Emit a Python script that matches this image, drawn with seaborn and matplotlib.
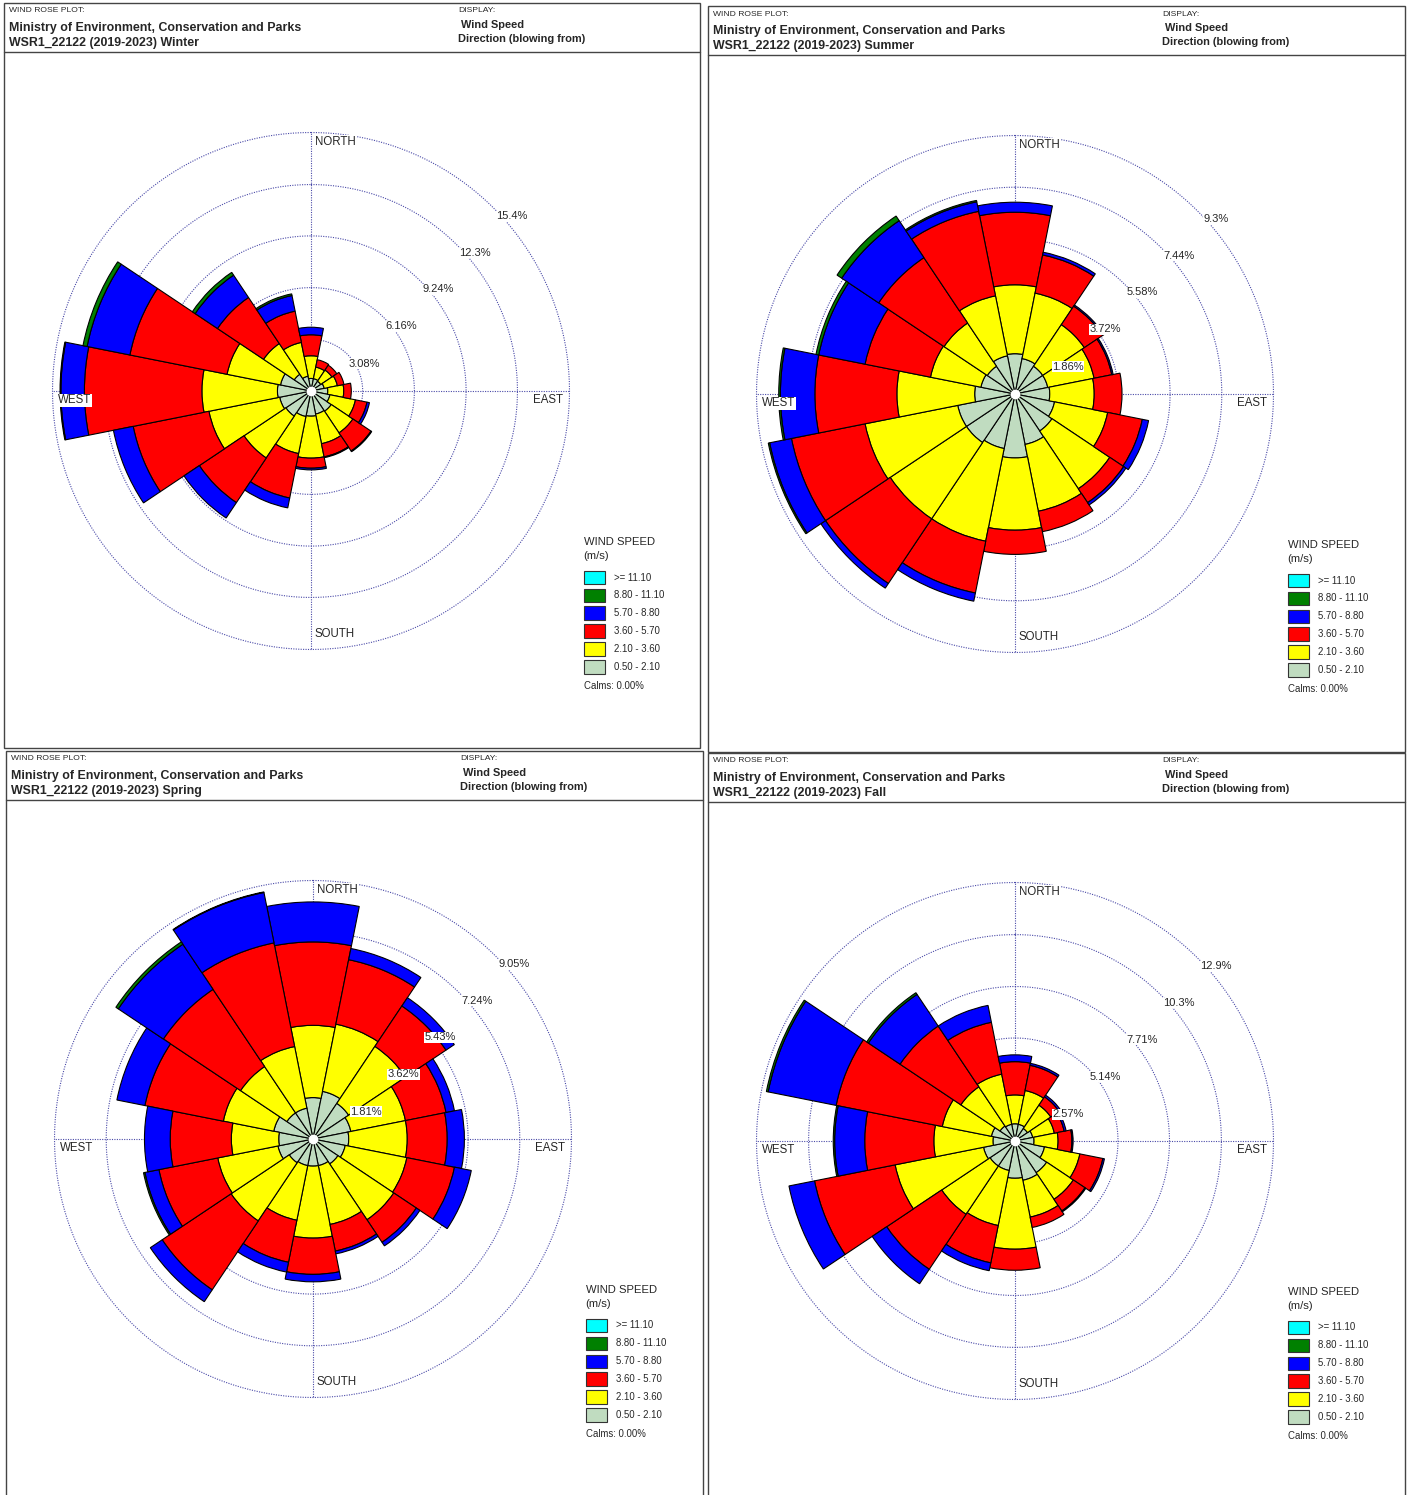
import numpy as np
import matplotlib
matplotlib.use("Agg")
import matplotlib.pyplot as plt
from matplotlib.patches import Rectangle
from matplotlib.lines import Line2D
import seaborn as sns

W, H = 1409, 1495

directions = ["N", "NNE", "NE", "ENE", "E", "ESE", "SE", "SSE",
              "S", "SSW", "SW", "WSW", "W", "WNW", "NW", "NNW"]
speed_labels = ["0.50 - 2.10", "2.10 - 3.60", "3.60 - 5.70",
                "5.70 - 8.80", "8.80 - 11.10", ">= 11.10"]
speed_hex = ["#c0dcc0", "#ffff00", "#ff0000", "#0000ff", "#008000", "#00ffff"]

# frequency (%) per direction, one list per speed class
winter_050_210 = [0.75, 0.75, 0.7, 0.8, 1.0, 1.15, 1.45, 1.4, 1.5, 1.55, 1.8, 1.9, 2.0, 1.85, 1.2, 0.9]
winter_210_360 = [1.35, 0.7, 0.8, 0.8, 0.95, 1.55, 1.55, 1.8, 2.5, 2.25, 3.0, 4.3, 4.5, 3.25, 2.2, 2.05]
winter_360_570 = [1.25, 0.45, 0.35, 0.4, 0.45, 0.7, 1.3, 0.8, 0.6, 2.7, 3.2, 4.6, 7.0, 5.9, 3.3, 1.9]
winter_570_880 = [0.45, 0.0, 0.0, 0.0, 0.0, 0.15, 0.05, 0.05, 0.1, 0.6, 1.1, 1.2, 1.4, 2.6, 1.6, 0.95]
winter_880_1110 = [0, 0, 0, 0, 0, 0, 0, 0, 0, 0, 0, 0, 0.05, 0.25, 0.2, 0.1]

summer_050_210 = [1.45, 1.3, 1.2, 1.2, 1.25, 1.45, 1.6, 1.85, 2.3, 2.0, 2.1, 2.1, 1.45, 1.25, 1.2, 1.4]
summer_210_360 = [2.48, 2.4, 1.8, 1.7, 1.6, 1.95, 2.5, 2.45, 2.6, 3.4, 3.3, 3.4, 2.8, 1.85, 1.87, 2.2]
summer_360_570 = [2.61, 1.4, 0.8, 0.65, 1.0, 1.27, 0.6, 0.75, 0.87, 1.9, 2.8, 2.7, 2.95, 2.4, 2.83, 3.1]
summer_570_880 = [0.36, 0.1, 0.05, 0.05, 0.0, 0.23, 0.1, 0.0, 0.0, 0.3, 0.2, 0.8, 1.24, 1.7, 1.6, 0.35]
summer_880_1110 = [0, 0, 0, 0, 0, 0, 0, 0, 0, 0, 0, 0.05, 0.06, 0.1, 0.2, 0.05]

spring_050_210 = [1.45, 1.7, 1.5, 1.35, 1.25, 1.15, 1.05, 0.95, 0.95, 0.95, 1.0, 1.25, 1.2, 1.4, 1.1, 1.1]
spring_210_360 = [2.53, 2.4, 2.4, 1.95, 2.05, 2.2, 2.35, 2.1, 2.52, 1.95, 2.45, 2.15, 1.66, 1.8, 1.95, 2.2]
spring_360_570 = [2.92, 2.3, 1.7, 1.45, 1.4, 1.7, 0.95, 0.95, 1.27, 1.5, 2.9, 2.1, 2.14, 2.8, 3.25, 3.7]
spring_570_880 = [1.4, 0.4, 0.35, 0.3, 0.6, 0.6, 0.15, 0.1, 0.26, 0.35, 0.5, 0.5, 0.9, 1.0, 1.9, 1.8]
spring_880_1110 = [0, 0, 0, 0, 0, 0, 0, 0, 0, 0, 0, 0.05, 0, 0, 0.1, 0.02]

fall_050_210 = [0.86, 0.85, 0.75, 0.9, 0.95, 1.5, 1.9, 2.0, 1.86, 1.5, 1.5, 1.6, 1.1, 1.2, 0.9, 0.85]
fall_210_360 = [1.44, 1.72, 1.4, 1.1, 1.2, 1.8, 1.6, 1.87, 3.54, 2.8, 2.9, 4.5, 2.95, 2.5, 2.35, 2.55]
fall_360_570 = [1.66, 1.28, 0.5, 0.5, 0.69, 1.17, 0.7, 0.53, 1.05, 1.9, 3.3, 4.1, 3.45, 5.4, 3.65, 2.64]
fall_570_880 = [0.34, 0.1, 0.1, 0.1, 0.06, 0.08, 0.05, 0.0, 0.0, 0.4, 0.87, 1.3, 1.5, 3.46, 1.9, 0.86]
fall_880_1110 = [0, 0, 0, 0, 0, 0, 0, 0, 0, 0, 0, 0, 0.07, 0.09, 0.1, 0]

above_1110 = [0, 0, 0, 0, 0, 0, 0, 0, 0, 0, 0, 0, 0, 0, 0, 0]

winter_rings = [3.08, 6.16, 9.24, 12.3, 15.4]
summer_rings = [1.86, 3.72, 5.58, 7.44, 9.3]
spring_rings = [1.81, 3.62, 5.43, 7.24, 9.05]
fall_rings = [2.57, 5.14, 7.71, 10.3, 12.9]

sns.set_style("white")
plt.rcParams['font.family'] = ['Liberation Sans', 'DejaVu Sans']
palette = sns.color_palette(speed_hex)
ring_color = "#4a4aa8"

fig = plt.figure(figsize=(W / 100, H / 100), dpi=100)


def fx(x):
    return x / W


def fy(y):
    return 1 - y / H


def polar_xy(x, y, rmax):
    # cartesian (x east, y north, in units of outer ring) -> compass theta, r
    return np.arctan2(x, y), np.hypot(x, y) * rmax


def draw_panel(x0, y0, x1, y1, season, classes, rings):
    # frame and header
    fig.add_artist(Rectangle((fx(x0), fy(y1)), fx(x1 - x0), (y1 - y0) / H,
                             transform=fig.transFigure, fill=False,
                             edgecolor="#444444", linewidth=1.0))
    fig.add_artist(Line2D([fx(x0), fx(x1)], [fy(y0 + 49), fy(y0 + 49)],
                          transform=fig.transFigure, color="#444444", linewidth=1.0))
    fig.text(fx(x0 + 5), fy(y0 + 8), "WIND ROSE PLOT:", fontsize=6.1, va="center")
    fig.text(fx(x0 + 5), fy(y0 + 25), "Ministry of Environment, Conservation and Parks",
             fontsize=8.9, fontweight="bold", va="center")
    fig.text(fx(x0 + 5), fy(y0 + 40), f"WSR1_22122 (2019-2023) {season}",
             fontsize=8.9, fontweight="bold", va="center")
    fig.text(fx(x0 + 454), fy(y0 + 8), "DISPLAY:", fontsize=6.1, va="center")
    fig.text(fx(x0 + 457), fy(y0 + 22), "Wind Speed", fontsize=7.9,
             fontweight="bold", va="center")
    fig.text(fx(x0 + 454), fy(y0 + 36), "Direction (blowing from)", fontsize=7.9,
             fontweight="bold", va="center")

    # rose
    cx, cy, R = x0 + 307, y0 + 388, 258.5
    ax = fig.add_axes([fx(cx - R), fy(cy + R), 2 * R / W, 2 * R / H], projection="polar")
    ax.set_theta_zero_location("N")
    ax.set_theta_direction(-1)
    rmax = rings[-1]
    ax.set_ylim(0, rmax)
    ax.set_xticks([])
    ax.set_yticks([])
    ax.grid(False)
    ax.spines["polar"].set_visible(False)
    ax.patch.set_alpha(0)

    full = np.linspace(0, 2 * np.pi, 361)
    for r in rings:
        ax.plot(full, np.full_like(full, r), ls=(0, (1, 1.2)), lw=0.8,
                color=ring_color, zorder=0.5, clip_on=False)
    for t in [0, np.pi / 2, np.pi, 3 * np.pi / 2]:
        ax.plot([t, t], [0, rmax], ls=(0, (1, 1.2)), lw=0.8, color=ring_color,
                zorder=0.5, clip_on=False)

    theta = np.deg2rad(np.arange(16) * 22.5)
    bottom = np.zeros(16)
    for vals, col in zip(classes, palette):
        vals = np.asarray(vals, dtype=float)
        m = vals > 0
        ax.bar(theta[m], vals[m], width=2 * np.pi / 16, bottom=bottom[m],
               color=col, edgecolor="black", linewidth=0.8, zorder=2)
        bottom += vals
    ax.plot([0], [0], "o", ms=6, color="white", zorder=3)

    # ring labels
    for r in rings:
        rho = r / rmax + 0.03
        phi = np.pi / 4 + np.arcsin(0.10 / (np.sqrt(2) * rho))
        lab = f"{r:g}%"
        ax.text(phi, rho * rmax, lab, fontsize=8, ha="center", va="center",
                zorder=5, clip_on=False,
                bbox=dict(facecolor="white", edgecolor="none", pad=0.3))

    # compass labels
    for text, x, y, ha in [("NORTH", 0.015, 0.965, "left"), ("EAST", 0.973, -0.035, "right"),
                           ("SOUTH", 0.015, -0.94, "left"), ("WEST", -0.977, -0.035, "left")]:
        t, r = polar_xy(x, y, rmax)
        ax.text(t, r, text, fontsize=8.3, ha=ha, va="center", zorder=5, clip_on=False,
                bbox=dict(facecolor="white", edgecolor="none", pad=0.3))

    # legend
    lx, ly = x0 + 579.5, y0 + 539
    fig.text(fx(lx), fy(ly), "WIND SPEED", fontsize=8.1, va="center")
    fig.text(fx(lx), fy(ly + 14), "(m/s)", fontsize=8.1, va="center")
    for i, (lab, col) in enumerate(zip(speed_labels[::-1], palette[::-1])):
        top = ly + 28.7 + i * 17.9
        fig.add_artist(Rectangle((fx(lx), fy(top + 13.5)), 21 / W, 13.5 / H,
                                 transform=fig.transFigure, facecolor=col,
                                 edgecolor="#333333", linewidth=0.8))
        fig.text(fx(lx + 30.5), fy(top + 6.8), lab, fontsize=6.9, va="center")
    fig.text(fx(lx), fy(ly + 144), "Calms: 0.00%", fontsize=6.9, va="center")


draw_panel(4, 3, 700, 748, "Winter",
           [winter_050_210, winter_210_360, winter_360_570, winter_570_880,
            winter_880_1110, above_1110], winter_rings)
draw_panel(708, 6, 1405, 752, "Summer",
           [summer_050_210, summer_210_360, summer_360_570, summer_570_880,
            summer_880_1110, above_1110], summer_rings)
draw_panel(6, 751, 703, 1500, "Spring",
           [spring_050_210, spring_210_360, spring_360_570, spring_570_880,
            spring_880_1110, above_1110], spring_rings)
draw_panel(708, 753, 1405, 1500, "Fall",
           [fall_050_210, fall_210_360, fall_360_570, fall_570_880,
            fall_880_1110, above_1110], fall_rings)

fig.savefig("out.png", dpi=100)
